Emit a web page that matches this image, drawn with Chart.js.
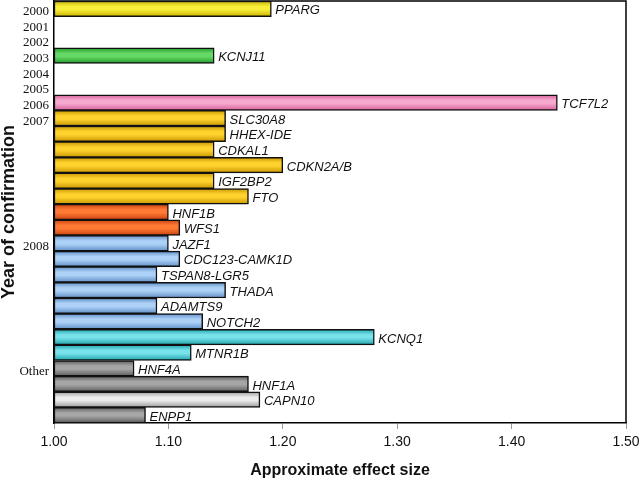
<!DOCTYPE html>
<html>
<head>
<meta charset="utf-8">
<script src="https://cdn.jsdelivr.net/npm/chart.js@4/dist/chart.umd.min.js"></script>
<style>
    html, body { margin: 0; padding: 0; background: #fff; }
    #wrap { width: 640px; height: 486px; }
</style>
</head>
<body>
<div id="wrap"><canvas id="EffectChart"></canvas></div>
<script>
// Genes, one row each (empty rows are years with no gene)
let genes = ['PPARG', '', '', 'KCNJ11', '', '', 'TCF7L2',
    'SLC30A8', 'HHEX-IDE', 'CDKAL1', 'CDKN2A/B', 'IGF2BP2', 'FTO',
    'HNF1B', 'WFS1',
    'JAZF1', 'CDC123-CAMK1D', 'TSPAN8-LGR5', 'THADA', 'ADAMTS9', 'NOTCH2',
    'KCNQ1', 'MTNR1B',
    'HNF4A', 'HNF1A', 'CAPN10', 'ENPP1'];

// Approximate effect size
let effects = [1.19, null, null, 1.14, null, null, 1.44,
    1.15, 1.15, 1.14, 1.20, 1.14, 1.17,
    1.10, 1.11,
    1.10, 1.11, 1.09, 1.15, 1.09, 1.13,
    1.28, 1.12,
    1.07, 1.17, 1.18, 1.08];

// Year labels on the left axis, one per row
let years = ['2000', '2001', '2002', '2003', '2004', '2005', '2006', '2007',
    '', '', '', '', '', '', '', '2008', '', '', '', '', '', '', '', 'Other', '', '', ''];

let xTicks = [1.0, 1.1, 1.2, 1.3, 1.4, 1.5];

// Colours: [edge, middle] for the shaded bars
let yellow = ['#c9b200', '#f7ef3a'];
let green = ['#1f9a2a', '#66d866'];
let pink = ['#d4609a', '#f7a9cf'];
let gold = ['#c99600', '#ffd22e'];
let orange = ['#c9400e', '#ff7a35'];
let blue = ['#5f8ec6', '#aed2f7'];
let teal = ['#1ea3ad', '#78e2ea'];
let grey = ['#5c5c5c', '#a6a6a6'];
let lightGrey = ['#9c9c9c', '#ececec'];

let barColors = [yellow, null, null, green, null, null, pink,
    gold, gold, gold, gold, gold, gold,
    orange, orange,
    blue, blue, blue, blue, blue, blue,
    teal, teal,
    grey, grey, lightGrey, grey];

// bars start at 1.00
let floating = effects.map(v => v == null ? null : [1, v]);

function shade(ctx) {
    let pair = barColors[ctx.dataIndex] || grey;
    let chart = ctx.chart;
    if (!chart.chartArea || !chart.scales.y) return pair[1];
    let y = chart.scales.y.getPixelForValue(ctx.dataIndex);
    let h = chart.scales.y.height / genes.length / 2;
    let g = chart.ctx.createLinearGradient(0, y - h, 0, y + h);
    g.addColorStop(0, pair[0]);
    g.addColorStop(0.35, pair[1]);
    g.addColorStop(0.55, pair[1]);
    g.addColorStop(1, pair[0]);
    return g;
}

// Gene names to the right of the bars, plus the box round the plot
let geneLabels = {
    id: 'geneLabels',
    beforeDatasetsDraw(chart) {
        let a = chart.chartArea;
        let c = chart.ctx;
        c.save();
        c.strokeStyle = '#000';
        c.lineWidth = 1.5;
        c.beginPath();
        c.moveTo(a.left, a.top);
        c.lineTo(a.right, a.top);
        c.lineTo(a.right, a.bottom);
        c.stroke();
        c.restore();
    },
    afterDatasetsDraw(chart) {
        let c = chart.ctx;
        let meta = chart.getDatasetMeta(0);
        c.save();
        c.font = 'italic 13px "Liberation Sans", Arial, sans-serif';
        c.fillStyle = '#111';
        c.textBaseline = 'middle';
        c.textAlign = 'left';
        meta.data.forEach((bar, i) => {
            if (!genes[i] || effects[i] == null) return;
            c.fillText(genes[i], bar.x + 4, bar.y + 2);
        });
        c.restore();
    }
};

new Chart('EffectChart', {
    type: 'bar',
    data: {
        labels: genes,
        datasets: [{
            data: floating,
            backgroundColor: shade,
            borderColor: '#111',
            borderWidth: 1.5,
            borderSkipped: false,
            categoryPercentage: 1,
            barPercentage: 1
        }]
    },
    options: {
        indexAxis: 'y',
        responsive: true,
        maintainAspectRatio: false,
        animation: false,
        layout: { padding: { top: 1, right: 14, left: 0, bottom: 0 } },
        plugins: {
            legend: { display: false },
            tooltip: { enabled: false }
        },
        scales: {
            x: {
                min: 1.0,
                max: 1.5,
                afterBuildTicks: scale => { scale.ticks = xTicks.map(v => ({ value: v })); },
                afterFit: scale => {
                    scale.height = 63;
                    scale.paddingLeft = 0;
                    scale.paddingRight = 0;
                },
                ticks: {
                    padding: 5,
                    color: '#111',
                    font: { family: '"Liberation Sans", Arial, sans-serif', size: 14 },
                    callback: v => v.toFixed(2)
                },
                grid: { drawOnChartArea: false, drawTicks: true, tickLength: 6, color: '#999' },
                border: { color: '#000', width: 1.5 },
                title: {
                    display: true,
                    text: 'Approximate effect size',
                    color: '#111',
                    padding: { top: 0, bottom: 6 },
                    font: { family: '"Liberation Sans", Arial, sans-serif', size: 16, weight: 'bold' }
                }
            },
            y: {
                afterFit: scale => {
                    scale.width = 54;
                    scale.paddingTop = 0;
                    scale.paddingBottom = 0;
                },
                ticks: {
                    autoSkip: false,
                    padding: 5,
                    labelOffset: 3,
                    color: '#111',
                    font: { family: '"Liberation Serif", "Times New Roman", serif', size: 13 },
                    callback: (v, i) => years[i]
                },
                grid: { display: false, drawTicks: false },
                border: { color: '#000', width: 1.5 },
                title: {
                    display: true,
                    text: 'Year of confirmation',
                    color: '#111',
                    padding: 0,
                    font: { family: '"Liberation Sans", Arial, sans-serif', size: 18, weight: 'bold', lineHeight: 1 }
                }
            }
        }
    },
    plugins: [geneLabels]
});
</script>
</body>
</html>
